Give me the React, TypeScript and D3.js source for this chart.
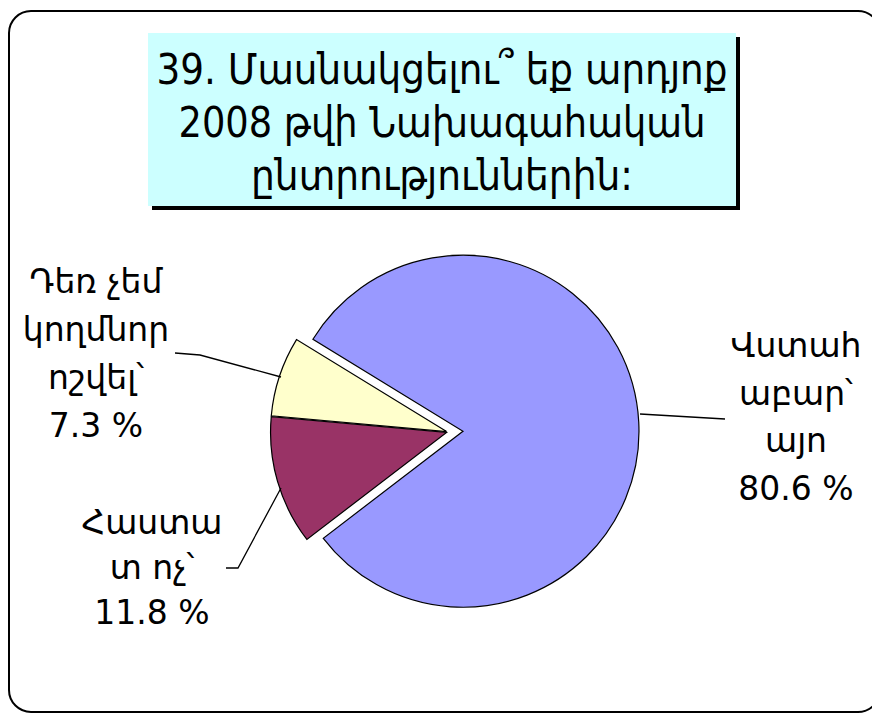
import React from "react";
import * as d3 from "d3";

const titleLines = [
  "39. Մասնակցելու՞ եք արդյոք",
  "2008 թվի Նախագահական",
  "ընտրություններին:",
];
const categories = ["Վստահաբար՝ այո", "Հաստատ ոչ՝", "Դեռ չեմ կողմնորոշվել՝"];
const values = [80.6, 11.8, 7.3];
const labelLines = [
  ["Վստահ", "աբար՝", "այո"],
  ["Հաստա", "տ ոչ՝"],
  ["Դեռ չեմ", "կողմնոր", "ոշվել՝"],
];
const colors = ["#9999FF", "#993366", "#FFFFCC"];

const W = 872;
const H = 714;
const FONT = "'DejaVu Sans', 'Liberation Sans', sans-serif";

export default function App() {
  const cx = 448;
  const cy = 432;
  const R = 176;
  const explode = [15, 1.5, 1.5];
  const start = (-58.5 * Math.PI) / 180;

  const pie = d3
    .pie<number>()
    .sort(null)
    .value((d) => d)
    .startAngle(start)
    .endAngle(start + 2 * Math.PI);
  const arcs = pie(values);
  const arc = d3.arc<d3.PieArcDatum<number>>().innerRadius(0).outerRadius(R);

  // label layout: [centerX, firstBaseline, step]
  const labelPos: [number, number, number][] = [
    [796, 357, 47.7],
    [152, 534, 45],
    [96, 293, 48],
  ];
  const titleWidths = [571, 527, 382];

  const leaders = [
    [
      [640, 414],
      [725, 419],
    ],
    [
      [281, 488],
      [238, 568],
      [226, 568],
    ],
    [
      [175, 353],
      [200, 355],
      [281, 377],
    ],
  ];
  const line = d3.line();

  return (
    <div style={{ position: "absolute", left: 0, top: 0 }}>
      <svg width={W} height={H} style={{ display: "block", background: "#fff" }}>
        <rect x={9} y={11} width={871} height={701} rx={22} ry={22} fill="#fff" stroke="#000" strokeWidth={2} />
        {/* title box */}
        <rect x={152} y={37} width={588} height={173} fill="#000" />
        <rect x={148} y={33} width={588} height={173} fill="#CCFFFF" />
        {titleLines.map((t, i) => (
          <text
            key={i}
            x={442}
            y={84 + i * 53}
            textAnchor="middle"
            fontFamily={FONT}
            fontSize={42}
            textLength={titleWidths[i]}
            lengthAdjust="spacingAndGlyphs"
            fill="#000"
          >
            {t}
          </text>
        ))}
        {/* pie */}
        {arcs.map((a, i) => {
          const mid = (a.startAngle + a.endAngle) / 2;
          const ox = cx + explode[i] * Math.sin(mid);
          const oy = cy - explode[i] * Math.cos(mid);
          return (
            <path
              key={categories[i]}
              d={arc(a) || ""}
              transform={`translate(${ox},${oy})`}
              fill={colors[i]}
              stroke="#000"
              strokeWidth={1.2}
              strokeLinejoin="miter"
            />
          );
        })}
        {leaders.map((pts, i) => (
          <path key={i} d={line(pts as [number, number][]) || ""} fill="none" stroke="#000" strokeWidth={1.3} />
        ))}
        {labelLines.map((ls, i) => {
          const [lx, ly, step] = labelPos[i];
          const all = [...ls, `${values[i]} %`];
          return (
            <text key={i} textAnchor="middle" fontFamily={FONT} fontSize={33} fill="#000">
              {all.map((t, j) => (
                <tspan key={j} x={lx} y={ly + j * step}>
                  {t}
                </tspan>
              ))}
            </text>
          );
        })}
      </svg>
    </div>
  );
}
